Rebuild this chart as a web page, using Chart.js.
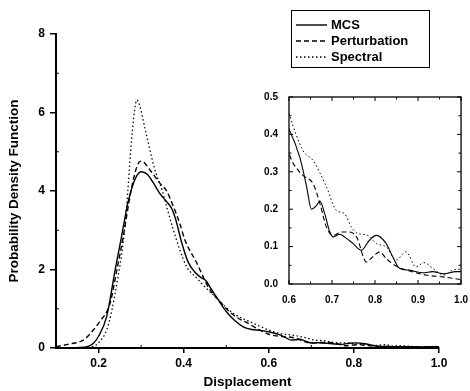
<!DOCTYPE html>
<html>
<head>
<meta charset="utf-8">
<script src="https://cdn.jsdelivr.net/npm/chart.js@4.4.1/dist/chart.umd.min.js"></script>
<style>
    html, body { margin: 0; padding: 0; background: #fff; }
    #wrap { position: relative; width: 470px; height: 391px; }
    #mainChart { position: absolute; left: 0; top: 0; }
    #insetChart { position: absolute; left: 262px; top: 88px; }
</style>
</head>
<body>
<div id="wrap">
    <canvas id="mainChart" width="470" height="391"></canvas>
    <canvas id="insetChart" width="208" height="226"></canvas>
</div>
<script>
// Probability density of displacement
const SERIES_LABELS = ["MCS", "Perturbation", "Spectral"];

const mcsX = [0.10, 0.15, 0.175, 0.188, 0.20, 0.219, 0.239, 0.254, 0.27, 0.288,
    0.301, 0.315, 0.328, 0.345, 0.36, 0.372, 0.382, 0.395, 0.41, 0.425,
    0.44, 0.452, 0.462, 0.48, 0.50, 0.52, 0.54, 0.56, 0.58, 0.60,
    0.625, 0.641, 0.652, 0.664, 0.672, 0.683, 0.695, 0.703, 0.718, 0.729,
    0.749, 0.768, 0.787, 0.803, 0.826, 0.841, 0.857, 0.88, 0.911, 0.934,
    0.96, 0.988, 1.0];
const mcsY = [0.0, 0.01, 0.04, 0.12, 0.3, 0.8, 1.99, 2.84, 3.75, 4.35,
    4.49, 4.42, 4.22, 3.92, 3.73, 3.55, 3.25, 2.7, 2.2, 1.95,
    1.8, 1.72, 1.55, 1.25, 0.93, 0.70, 0.54, 0.47, 0.45, 0.414,
    0.339, 0.26, 0.20, 0.21, 0.222, 0.188, 0.139, 0.126, 0.133, 0.126,
    0.108, 0.09, 0.117, 0.13, 0.108, 0.073, 0.042, 0.037, 0.03, 0.033,
    0.027, 0.033, 0.033];

const pertX = [0.10, 0.13, 0.164, 0.188, 0.20, 0.227, 0.243, 0.258, 0.278, 0.293,
    0.301, 0.321, 0.344, 0.36, 0.376, 0.39, 0.403, 0.431, 0.458, 0.485,
    0.517, 0.556, 0.58, 0.602, 0.622, 0.633, 0.656, 0.672, 0.687, 0.703,
    0.722, 0.741, 0.757, 0.78, 0.795, 0.811, 0.826, 0.849, 0.88, 0.918,
    0.957, 1.0];
const pertY = [0.03, 0.1, 0.2, 0.46, 0.63, 1.14, 1.99, 2.84, 4.1, 4.7,
    4.76, 4.53, 4.2, 4.0, 3.6, 3.2, 2.75, 2.16, 1.55, 1.18,
    0.84, 0.6, 0.45, 0.343, 0.303, 0.29, 0.268, 0.215, 0.152, 0.13,
    0.139, 0.139, 0.126, 0.059, 0.073, 0.086, 0.068, 0.048, 0.035, 0.024,
    0.019, 0.012];

const specX = [0.10, 0.17, 0.19, 0.20, 0.219, 0.232, 0.243, 0.258, 0.268, 0.276,
    0.284, 0.29, 0.296, 0.31, 0.325, 0.335, 0.35, 0.36, 0.376, 0.391,
    0.407, 0.431, 0.446, 0.47, 0.517, 0.564, 0.58, 0.602, 0.633, 0.656,
    0.687, 0.71, 0.729, 0.745, 0.76, 0.783, 0.803, 0.826, 0.849, 0.872,
    0.895, 0.914, 0.934, 0.96, 0.98, 1.0];
const specY = [0.0, 0.01, 0.05, 0.13, 0.46, 1.0, 1.65, 2.7, 3.9, 5.1,
    6.0, 6.32, 6.2, 5.55, 4.85, 4.45, 4.0, 3.6, 3.0, 2.5,
    2.07, 1.78, 1.6, 1.35, 0.88, 0.63, 0.55, 0.45, 0.356, 0.33,
    0.26, 0.197, 0.188, 0.152, 0.135, 0.13, 0.108, 0.099, 0.064, 0.086,
    0.046, 0.057, 0.042, 0.024, 0.037, 0.04];

const X_TICKS = [0.2, 0.4, 0.6, 0.8, 1.0];
const Y_TICKS = [0, 2, 4, 6, 8];
const X_MINOR = [0.3, 0.5, 0.7, 0.9];
const Y_MINOR = [1, 3, 5, 7];

const INSET_X_TICKS = [0.6, 0.7, 0.8, 0.9, 1.0];
const INSET_Y_TICKS = [0.0, 0.1, 0.2, 0.3, 0.4, 0.5];
const INSET_X_MINOR = [0.65, 0.75, 0.85, 0.95];
const INSET_Y_MINOR = [0.05, 0.15, 0.25, 0.35, 0.45];

const DASHES = [[], [5, 3], [1.5, 2.5]];
const FONT = "'Liberation Sans', Arial, sans-serif";

function toPoints(xs, ys) {
    return xs.map((x, i) => ({ x, y: ys[i] }));
}

function buildDatasets(width) {
    const all = [[mcsX, mcsY], [pertX, pertY], [specX, specY]];
    return all.map(([xs, ys], i) => ({
        label: SERIES_LABELS[i],
        data: toPoints(xs, ys),
        borderColor: "#000",
        borderWidth: i === 2 ? width * 0.9 : width,
        borderDash: DASHES[i],
        pointRadius: 0,
        fill: false,
        showLine: true,
        cubicInterpolationMode: "monotone",
    }));
}

// small tick marks drawn inside the plot frame (and the frame itself for the inset)
const innerTicks = {
    id: "innerTicks",
    afterDatasetsDraw(chart, args, opts) {
        const { ctx, chartArea: a, scales } = chart;
        ctx.save();
        ctx.strokeStyle = "#000";
        ctx.lineWidth = opts.lineWidth || 1;
        if (opts.frame) {
            ctx.lineWidth = opts.frameWidth || 1.2;
            ctx.strokeRect(a.left, a.top, a.right - a.left, a.bottom - a.top);
            ctx.lineWidth = opts.lineWidth || 1;
        }
        ctx.beginPath();
        (opts.marks || []).forEach((m) => {
            m.values.forEach((v) => {
                if (m.axis === "x") {
                    const px = scales.x.getPixelForValue(v);
                    ctx.moveTo(px, a.bottom);
                    ctx.lineTo(px, a.bottom - m.len);
                    if (opts.frame) {
                        ctx.moveTo(px, a.top);
                        ctx.lineTo(px, a.top + m.len);
                    }
                } else {
                    const py = scales.y.getPixelForValue(v);
                    ctx.moveTo(a.left, py);
                    ctx.lineTo(a.left + m.len, py);
                    if (opts.frame) {
                        ctx.moveTo(a.right, py);
                        ctx.lineTo(a.right - m.len, py);
                    }
                }
            });
        });
        ctx.stroke();
        ctx.restore();
    },
};

// boxed legend in the top right corner
const boxLegend = {
    id: "boxLegend",
    afterDraw(chart, args, opts) {
        const { ctx } = chart;
        const box = opts.box;
        ctx.save();
        ctx.strokeStyle = "#000";
        ctx.lineWidth = 1;
        ctx.strokeRect(box.left + 0.5, box.top + 0.5, box.width, box.height);
        ctx.font = "bold 13px " + FONT;
        ctx.fillStyle = "#000";
        ctx.textBaseline = "middle";
        chart.data.datasets.forEach((ds, i) => {
            const y = box.top + opts.firstRow + i * opts.rowGap;
            ctx.beginPath();
            ctx.setLineDash(ds.borderDash || []);
            ctx.lineWidth = 1.4;
            ctx.moveTo(box.left + opts.lineStart, y);
            ctx.lineTo(box.left + opts.lineEnd, y);
            ctx.stroke();
            ctx.setLineDash([]);
            ctx.fillText(ds.label, box.left + opts.textStart, y + 0.5);
        });
        ctx.restore();
    },
};

function setTicks(values) {
    return (scale) => {
        scale.ticks = values.map((v) => ({ value: v }));
    };
}

const tickFont = { family: FONT, size: 12, weight: "bold" };
const titleFont = { family: FONT, size: 13.5, weight: "bold" };

new Chart(document.getElementById("mainChart"), {
    type: "scatter",
    data: { datasets: buildDatasets(1.4) },
    plugins: [innerTicks, boxLegend],
    options: {
        responsive: false,
        animation: false,
        layout: { padding: { top: 34, right: 31, left: 0, bottom: 0 } },
        plugins: {
            legend: { display: false },
            tooltip: { enabled: false },
            innerTicks: {
                lineWidth: 1,
                marks: [
                    { axis: "x", values: X_MINOR, len: 3 },
                    { axis: "y", values: Y_MINOR, len: 3 },
                ],
            },
            boxLegend: {
                box: { left: 291, top: 10, width: 138, height: 57 },
                firstRow: 15,
                rowGap: 16,
                lineStart: 5,
                lineEnd: 36,
                textStart: 40,
            },
        },
        scales: {
            x: {
                type: "linear",
                min: 0.1,
                max: 1.0,
                afterBuildTicks: setTicks(X_TICKS),
                afterFit: (s) => { s.height = 43; },
                ticks: {
                    callback: (v) => v.toFixed(1),
                    font: tickFont,
                    color: "#000",
                    padding: 3,
                    maxRotation: 0,
                    autoSkip: false,
                },
                grid: {
                    drawOnChartArea: false,
                    drawTicks: true,
                    tickLength: 5,
                    color: "#000",
                    lineWidth: 1.5,
                },
                border: { display: true, color: "#000", width: 2 },
                title: {
                    display: true,
                    text: "Displacement",
                    font: titleFont,
                    color: "#000",
                    padding: { top: 0, bottom: 1 },
                },
            },
            y: {
                type: "linear",
                min: 0,
                max: 8,
                afterBuildTicks: setTicks(Y_TICKS),
                afterFit: (s) => { s.width = 56; },
                ticks: {
                    callback: (v) => String(v),
                    font: tickFont,
                    color: "#000",
                    padding: 5,
                    autoSkip: false,
                },
                grid: {
                    drawOnChartArea: false,
                    drawTicks: true,
                    tickLength: 6,
                    color: "#000",
                    lineWidth: 1.5,
                },
                border: { display: true, color: "#000", width: 2 },
                title: {
                    display: true,
                    text: "Probability Density Function",
                    font: titleFont,
                    color: "#000",
                    padding: { top: 6, bottom: 0 },
                },
            },
        },
    },
});

const insetFont = { family: FONT, size: 10, weight: "bold" };

new Chart(document.getElementById("insetChart"), {
    type: "scatter",
    data: { datasets: buildDatasets(1.1) },
    plugins: [innerTicks],
    options: {
        responsive: false,
        animation: false,
        layout: { padding: { top: 8, right: 8, left: 0, bottom: 0 } },
        plugins: {
            legend: { display: false },
            tooltip: { enabled: false },
            innerTicks: {
                frame: true,
                frameWidth: 1.3,
                lineWidth: 1,
                marks: [
                    { axis: "x", values: INSET_X_TICKS, len: 4 },
                    { axis: "x", values: INSET_X_MINOR, len: 2.5 },
                    { axis: "y", values: INSET_Y_TICKS, len: 4 },
                    { axis: "y", values: INSET_Y_MINOR, len: 2.5 },
                ],
            },
        },
        scales: {
            x: {
                type: "linear",
                min: 0.6,
                max: 1.0,
                afterBuildTicks: setTicks(INSET_X_TICKS),
                afterFit: (s) => { s.height = 30; },
                ticks: {
                    callback: (v) => v.toFixed(1),
                    font: insetFont,
                    color: "#000",
                    padding: 2,
                    maxRotation: 0,
                    autoSkip: false,
                },
                grid: { display: false },
                border: { display: false },
            },
            y: {
                type: "linear",
                min: 0,
                max: 0.5,
                afterBuildTicks: setTicks(INSET_Y_TICKS),
                afterFit: (s) => { s.width = 27; },
                ticks: {
                    callback: (v) => v.toFixed(1),
                    font: insetFont,
                    color: "#000",
                    padding: 3,
                    autoSkip: false,
                },
                grid: { display: false },
                border: { display: false },
            },
        },
    },
});
</script>
</body>
</html>
